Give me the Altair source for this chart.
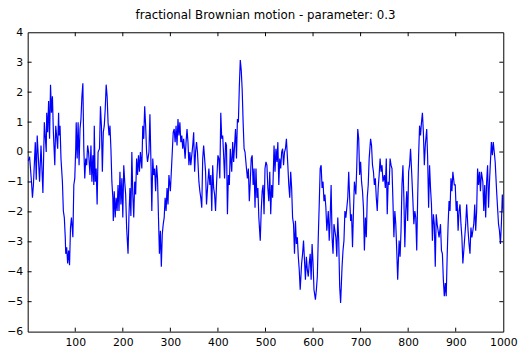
import altair as alt
import pandas as pd

t_vals = [1, 4, 8, 10, 12, 16, 18, 20, 25, 28, 32, 35, 39, 40, 42, 44, 46, 48, 50, 52, 54, 57, 58, 59, 63, 65, 66, 68, 70, 73,
          75, 77, 79, 80, 82, 84, 86, 88, 90, 92, 95, 97, 99, 101, 102, 104, 106, 108, 110, 112, 114, 116, 118, 120, 122, 124, 126, 128, 131, 133,
          135, 137, 139, 140, 142, 144, 146, 148, 151, 153, 155, 157, 159, 161, 163, 165, 167, 169, 171, 173, 175, 177, 179, 180, 182, 184, 186, 188, 190, 192,
          194, 196, 198, 200, 202, 204, 206, 208, 211, 213, 215, 217, 219, 221, 223, 225, 227, 229, 231, 233, 235, 237, 240, 242, 244, 246, 248, 250, 252, 255,
          257, 259, 261, 263, 265, 267, 269, 271, 273, 275, 277, 279, 281, 283, 285, 287, 289, 291, 293, 295, 297, 300, 302, 304, 306, 308, 310, 312, 314, 316,
          318, 320, 322, 324, 326, 328, 331, 333, 335, 337, 339, 341, 343, 345, 347, 349, 351, 353, 355, 357, 360, 362, 364, 366, 368, 370, 372, 374, 376, 379,
          381, 383, 385, 387, 389, 391, 393, 395, 397, 400, 402, 404, 406, 408, 410, 412, 414, 416, 418, 420, 422, 424, 426, 429, 431, 433, 435, 437, 439, 441,
          443, 445, 447, 449, 451, 453, 455, 457, 460, 462, 464, 466, 468, 470, 472, 474, 476, 478, 480, 482, 484, 486, 489, 491, 493, 495, 497, 499, 501, 503,
          505, 507, 509, 511, 513, 515, 518, 520, 522, 524, 526, 528, 530, 532, 534, 536, 538, 540, 542, 544, 547, 549, 551, 553, 555, 557, 559, 561, 563, 565,
          567, 569, 571, 573, 576, 578, 580, 582, 584, 586, 588, 590, 592, 594, 596, 598, 600, 602, 605, 607, 609, 611, 613, 615, 617, 619, 621, 623, 625, 627,
          629, 632, 634, 636, 638, 640, 642, 644, 646, 648, 650, 652, 654, 656, 658, 661, 663, 665, 667, 669, 671, 673, 675, 677, 679, 681, 683, 685, 687, 690,
          692, 694, 696, 698, 700, 702, 704, 706, 708, 710, 712, 714, 716, 718, 721, 723, 725, 727, 729, 731, 733, 735, 737, 739, 741, 743, 745, 747, 750, 752,
          754, 756, 758, 760, 762, 764, 766, 768, 770, 772, 774, 776, 778, 781, 783, 785, 787, 789, 791, 793, 795, 797, 799, 801, 803, 805, 807, 810, 812, 814,
          816, 818, 820, 822, 824, 826, 828, 830, 832, 834, 836, 839, 841, 843, 845, 847, 849, 851, 853, 855, 857, 859, 861, 863, 865, 868, 870, 872, 874, 876,
          878, 880, 882, 884, 886, 888, 890, 892, 894, 897, 899, 901, 903, 905, 907, 909, 911, 913, 915, 917, 919, 921, 923, 926, 928, 930, 932, 934, 936, 938,
          940, 942, 944, 946, 948, 950, 952, 954, 957, 959, 961, 963, 965, 967, 969, 971, 973, 975, 977, 979, 981, 983, 986, 988, 990, 992, 994, 996, 998, 1000]

y_vals = [-0.3, -0.16, -1.0, -1.53, -1.1, 0.33, -0.93, 0.55, -0.99, 0.22, -1.37, 0.99, 0.0, 1.31, 0.66, 1.7, 0.44, 2.25, 1.31, 1.86, 0.66, -0.44, 0.33, 0.88, 0.11, 1.31, 0.55, 0.88, -0.22, -0.99,
          -1.97, -2.19, -2.85, -3.4, -3.18, -3.72, -3.29, -3.78, -2.52, -2.19, -2.85, -1.1, -0.88, 0.11, 0.99, -0.22, 0.99, -0.44, 0.77, 1.1, 1.86, 2.3, 0.11, -0.88, -0.22, -0.44, 0.22, 0.0, -0.77, 0.22,
          -0.99, -0.11, -1.1, 0.88, -0.99, -0.55, -1.75, 0.0, 0.11, 1.53, 0.88, -0.66, 0.66, 0.88, 1.42, 2.25, 1.86, 0.99, 0.55, 0.88, 0.11, -0.99, -1.53, -2.3, -1.31, -2.19, -1.53, -1.97, -1.1, -1.97,
          -0.66, -1.75, -0.88, -2.19, -0.44, -0.99, -1.42, -2.52, -3.4, -2.08, -1.2, -2.14, 0.0, -1.42, -2.19, -0.99, -1.42, -0.22, -0.77, -0.11, -0.66, 0.0, -0.55, 0.88, 0.44, 1.53, 0.88, 0.0, -0.33, 0.0,
          1.26, -0.22, -1.97, -0.22, -0.77, -0.55, -1.31, -0.44, -0.88, -2.19, -3.4, -2.63, -3.83, -2.74, -2.41, -2.19, -1.53, -1.97, -1.2, -1.75, -0.77, -1.31, -0.66, 0.0, 0.66, 0.77, 0.33, 0.88, 0.22, 1.1,
          0.55, 0.99, 0.33, 0.55, 0.11, 0.44, -0.22, 0.33, 0.77, 0.33, -0.44, 0.0, -0.44, -0.11, 0.22, 0.66, -0.66, 0.0, 0.33, 0.0, -0.99, -1.31, -1.53, -1.86, -0.22, 0.22, -0.22, -0.66, -1.75, -0.99,
          -0.55, -1.1, -0.77, -1.97, -0.44, -1.2, -1.42, -1.97, -1.1, -0.11, -0.22, -0.88, 1.31, 0.44, 0.55, -0.11, -0.88, 0.33, 0.22, -2.08, -0.77, -1.1, 0.11, -0.66, 0.33, -0.33, 0.22, 0.77, -0.22, 1.1,
          0.99, 2.19, 3.07, 2.74, 2.08, 0.99, 0.11, 0.0, -0.55, -0.88, -0.55, -1.64, -0.99, -0.22, -0.11, -1.1, -0.55, -1.86, -0.55, -1.53, -1.2, -2.19, -2.96, -1.97, -1.31, -1.1, -2.08, -0.55, -0.33, -0.44,
          -1.2, -1.64, -0.66, -2.08, -1.1, -1.53, 0.22, -0.66, 0.11, -0.33, 0.33, -1.1, -0.22, -0.55, 0.0, 0.11, -0.44, 0.0, 0.11, 0.44, -0.44, -1.1, -1.53, -0.66, -1.2, -2.19, -2.41, -3.4, -2.3, -3.07,
          -2.85, -3.5, -3.94, -4.6, -3.72, -3.4, -2.96, -3.61, -4.27, -3.5, -3.94, -4.16, -3.72, -3.4, -4.27, -3.07, -3.72, -4.6, -4.93, -4.6, -4.16, -2.85, -1.75, -0.55, -0.44, -1.2, -0.99, -1.64, -1.42, -1.86,
          -2.63, -1.97, -2.96, -2.19, -1.1, -2.85, -3.4, -2.41, -2.63, -2.85, -3.5, -2.19, -2.96, -4.49, -5.04, -3.83, -3.29, -2.96, -1.97, -2.19, -1.86, -1.53, -0.66, -1.53, -2.3, -2.08, -3.18, -1.97, -0.99, -1.42,
          -0.44, 0.77, 0.44, -0.77, -0.33, -0.99, -1.31, -1.86, -3.29, -2.19, -2.85, -1.53, -1.1, -0.22, 0.44, 0.22, -0.44, -0.66, -1.1, -0.88, -1.53, -1.97, -1.2, -0.77, -0.22, -0.66, -0.44, -0.99, -0.77, -1.2,
          -0.22, -2.08, -0.99, -1.1, -0.22, -0.44, -0.55, -1.64, -2.85, -1.97, -2.41, -3.29, -4.27, -2.96, -3.5, -2.63, -1.1, -0.44, -1.53, -3.18, -1.97, -1.31, -2.3, -0.66, -0.44, 0.11, -0.55, -1.64, -2.41, -1.97,
          -2.19, -3.29, -1.53, -0.11, 0.88, 0.55, 0.99, 1.31, 0.66, -0.44, 0.22, 0.77, -0.22, -1.86, -0.44, -1.2, -1.75, -2.96, -2.08, -2.41, -3.83, -2.08, -2.41, -2.63, -2.85, -2.41, -3.29, -3.4, -4.27, -4.82,
          -4.38, -4.82, -3.5, -2.41, -1.64, -1.97, -0.88, -1.31, -0.66, -1.1, -1.1, -1.97, -1.64, -2.63, -1.97, -1.75, -2.41, -2.85, -3.72, -3.29, -2.85, -2.41, -1.75, -2.63, -3.07, -3.4, -2.52, -2.85, -2.63, -2.41,
          -1.75, -2.63, -1.97, -0.55, -1.1, -0.66, -1.31, -0.66, -0.99, -1.97, -1.1, -2.19, -0.99, -0.44, -1.86, -0.99, -0.33, 0.33, -0.11, 0.33, 0.0, -0.33, -1.31, -1.86, -2.41, -2.63, -3.07, -2.41, -1.42, -1.97]

x_ticks = [100, 200, 300, 400, 500, 600, 700, 800, 900, 1000]
y_ticks = [-6, -5, -4, -3, -2, -1, 0, 1, 2, 3, 4]
title_text = "fractional Brownian motion - parameter: 0.3"

W, H = 483, 304
FONT = "DejaVu Sans"

df = pd.DataFrame({"t": t_vals, "v": y_vals})
xt = pd.DataFrame({"t": x_ticks[:-1]})
yt = pd.DataFrame({"v": y_ticks[1:-1]})

xscale = alt.Scale(domain=[0, 1000], nice=False, zero=False)
yscale = alt.Scale(domain=[-6, 4], nice=False, zero=False)

axis_common = dict(title=None, ticks=False, domain=False, grid=False,
                   labelFont=FONT, labelFontSize=11, labelColor="black",
                   labelFlush=False, labelOverlap=False, format="d", labelPadding=5)
xaxis = alt.Axis(values=x_ticks, **axis_common)
yaxis = alt.Axis(values=y_ticks, **axis_common)

line = alt.Chart(df).mark_line(color="#0000ff", strokeWidth=1.2, clip=True).encode(
    x=alt.X("t:Q", scale=xscale, axis=xaxis),
    y=alt.Y("v:Q", scale=yscale, axis=yaxis),
)

tick_style = dict(color="black", strokeWidth=1)
bottom_ticks = alt.Chart(xt).mark_rule(**tick_style).encode(
    x=alt.X("t:Q", scale=xscale, axis=xaxis), y=alt.value(H), y2=alt.value(H - 4))
top_ticks = alt.Chart(xt).mark_rule(**tick_style).encode(
    x=alt.X("t:Q", scale=xscale, axis=xaxis), y=alt.value(0), y2=alt.value(4))
left_ticks = alt.Chart(yt).mark_rule(**tick_style).encode(
    y=alt.Y("v:Q", scale=yscale, axis=yaxis), x=alt.value(0), x2=alt.value(4))
right_ticks = alt.Chart(yt).mark_rule(**tick_style).encode(
    y=alt.Y("v:Q", scale=yscale, axis=yaxis), x=alt.value(W), x2=alt.value(W - 4))

chart = alt.layer(line, bottom_ticks, top_ticks, left_ticks, right_ticks).properties(
    width=W, height=H,
    background="white",
    title=alt.TitleParams(title_text, font=FONT, fontSize=12, fontWeight="normal",
                          color="black", anchor="middle", offset=5),
    autosize=alt.AutoSizeParams(type="none"),
    padding={"left": 20, "top": 22, "right": 18, "bottom": 16},
).configure_view(stroke="black", strokeWidth=1)

chart.save("out.html", embed_options={"renderer": "svg", "actions": False})
